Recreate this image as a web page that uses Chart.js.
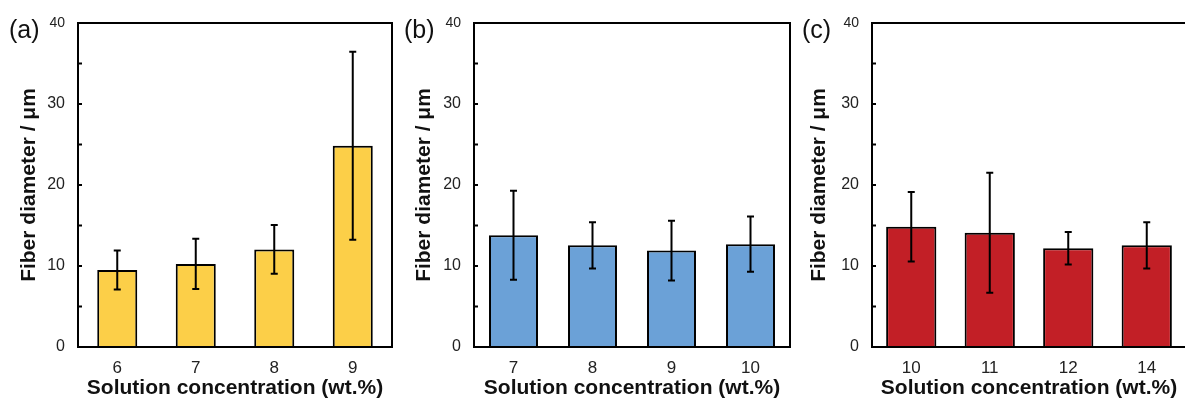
<!DOCTYPE html>
<html>
<head>
<meta charset="utf-8">
<script src="https://cdn.jsdelivr.net/npm/chart.js@4.4.1/dist/chart.umd.min.js"></script>
<style>
  html, body { margin: 0; padding: 0; background: #fff; width: 1185px; height: 399px; overflow: hidden; }
  .wrap { position: absolute; top: 0; height: 399px; width: 400px; }
</style>
</head>
<body>
<div class="wrap" style="left:0px"><canvas id="ca"></canvas></div>
<div class="wrap" style="left:395px"><canvas id="cb"></canvas></div>
<div class="wrap" style="left:790px"><canvas id="cc"></canvas></div>
<script>
// ---- data ----
const labelsA = ['6', '7', '8', '9'];
const meanA = [9.5, 10.25, 12.05, 24.85];
const sdA = [2.4, 3.1, 3.0, 11.6];

const labelsB = ['7', '8', '9', '10'];
const meanB = [13.8, 12.55, 11.9, 12.7];
const sdB = [5.5, 2.85, 3.7, 3.4];

const labelsC = ['10', '11', '12', '14'];
const meanC = [14.85, 14.1, 12.2, 12.55];
const sdC = [4.3, 7.4, 2.0, 2.85];

const yTicks = [0, 10, 20, 30, 40];
const yTicksMinor = [0, 5, 10, 15, 20, 25, 30, 35, 40];

const xTitle = 'Solution concentration (wt.%)';
const yTitle = 'Fiber diameter / μm';

const FONT = "'Liberation Sans', Arial, sans-serif";

function makeChart(id, cfg) {
  const framePlugin = {
    id: 'frame_' + id,
    afterDatasetsDraw(chart) {
      const ctx = chart.ctx;
      const ys = chart.scales.y;
      const meta = chart.getDatasetMeta(0);
      ctx.save();
      // error bars
      ctx.strokeStyle = '#000';
      ctx.lineWidth = 2;
      meta.data.forEach((bar, i) => {
        const m = cfg.mean[i], s = cfg.sd[i];
        const yt = ys.getPixelForValue(m + s);
        const yb = ys.getPixelForValue(m - s);
        const x = bar.x;
        ctx.beginPath();
        ctx.moveTo(x, yt); ctx.lineTo(x, yb);
        ctx.moveTo(x - 3.5, yt); ctx.lineTo(x + 3.5, yt);
        ctx.moveTo(x - 3.5, yb); ctx.lineTo(x + 3.5, yb);
        ctx.stroke();
      });
      // frame
      const a = chart.chartArea;
      ctx.lineWidth = 2;
      ctx.strokeRect(a.left, a.top, a.right - a.left, a.bottom - a.top);
      // inward ticks
      yTicksMinor.forEach(v => {
        const y = ys.getPixelForValue(v);
        ctx.beginPath();
        ctx.moveTo(a.left, y); ctx.lineTo(a.left + 4, y);
        ctx.stroke();
      });
      // panel label
      ctx.fillStyle = '#111';
      ctx.font = '25px ' + FONT;
      ctx.textBaseline = 'alphabetic';
      ctx.textAlign = 'left';
      ctx.fillText(cfg.panel, cfg.panelX, 38);
      ctx.restore();
    }
  };

  return new Chart(document.getElementById(id), {
    type: 'bar',
    data: {
      labels: cfg.labels,
      datasets: [{
        data: cfg.mean,
        backgroundColor: cfg.color,
        borderColor: '#000',
        borderWidth: 2,
        borderSkipped: 'bottom',
        categoryPercentage: 1.0,
        barPercentage: cfg.barPct
      }]
    },
    options: {
      responsive: false,
      animation: false,
      devicePixelRatio: 1,
      layout: { padding: { left: 0, right: cfg.padRight, top: 23, bottom: 0 } },
      plugins: { legend: { display: false }, tooltip: { enabled: false } },
      scales: {
        x: {
          grid: { display: false, drawTicks: false },
          border: { display: false },
          ticks: { color: '#222', font: { family: FONT, size: 17 }, padding: 11, maxRotation: 0 },
          title: { display: true, text: xTitle, color: '#111', font: { family: FONT, size: 21, weight: 'bold', lineHeight: 1 }, padding: { top: 0, bottom: 0 } },
          afterFit: s => { s.height = 52; }
        },
        y: {
          min: 0, max: 40,
          grid: { display: false, drawTicks: false },
          border: { display: false },
          afterBuildTicks: s => { s.ticks = yTicks.map(v => ({ value: v })); },
          ticks: {
            color: '#222',
            padding: 13,
            font: ctx => ({ family: FONT, size: (ctx.tick && ctx.tick.value === 40) ? 14 : 16 })
          },
          title: { display: true, text: yTitle, color: '#111', font: { family: FONT, size: 21, weight: 'bold', lineHeight: 1.2 }, padding: { top: 17, bottom: 0 } },
          afterFit: s => { s.width = cfg.yWidth; }
        }
      }
    },
    plugins: [framePlugin]
  });
}

function sizeCanvas(id) {
  const c = document.getElementById(id);
  c.width = 400; c.height = 399;
  c.style.width = '400px'; c.style.height = '399px';
}
['ca', 'cb', 'cc'].forEach(sizeCanvas);

makeChart('ca', { labels: labelsA, mean: meanA, sd: sdA, color: '#FCCF48', barPct: 0.51, yWidth: 78, padRight: 8, panel: '(a)', panelX: 9 });
makeChart('cb', { labels: labelsB, mean: meanB, sd: sdB, color: '#6BA1D7', barPct: 0.62, yWidth: 79, padRight: 5, panel: '(b)', panelX: 9 });
makeChart('cc', { labels: labelsC, mean: meanC, sd: sdC, color: '#C21F26', barPct: 0.64, yWidth: 82, padRight: 4, panel: '(c)', panelX: 12 });
</script>
</body>
</html>
